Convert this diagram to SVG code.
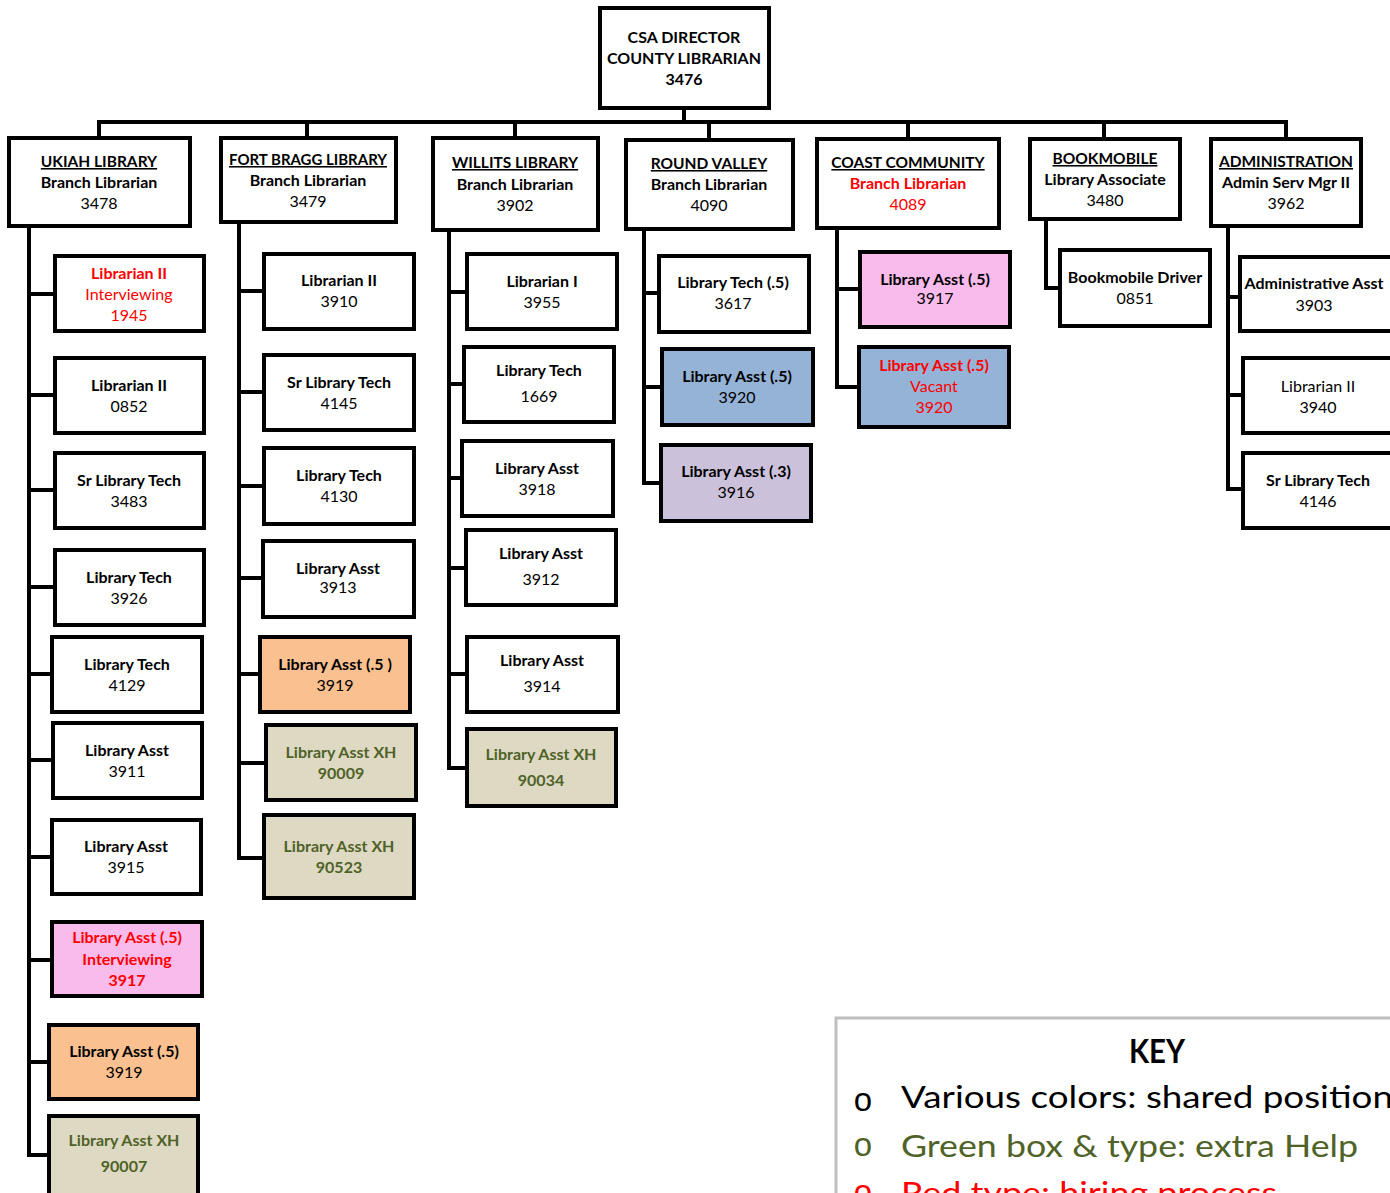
<svg xmlns="http://www.w3.org/2000/svg" width="1390" height="1193" viewBox="0 0 1390 1193">
<style>
.b{fill:#fff;stroke:#000;stroke-width:4}
.pink{fill:#F9BBEC}
.orange{fill:#FAC08F}
.green{fill:#DDD9C3}
.blue{fill:#95B3D7}
.purple{fill:#CCC1DA}
text{font-family:Lato,"Liberation Sans",sans-serif;font-size:16px;text-anchor:middle;fill:#000}
.h{font-weight:bold}
.u{font-weight:bold;text-decoration:underline;font-size:15.5px}
.r{fill:#FF0000}
.g{fill:#4F6228;font-weight:bold}
.c{fill:none;stroke:#000;stroke-width:4;stroke-linejoin:miter;stroke-linecap:square}
.key{text-anchor:start;font-size:31px}
.bul{font-family:"Liberation Sans",sans-serif;font-size:33px;font-weight:normal}
</style>
<rect width="1390" height="1193" fill="#fff"/>
<g id="connectors">
<path class="c" d="M684,108V122M99,122H1286M99,122V138M307,122V138M515,122V138M709,122V140M908,122V139M1104,122V139M1286,122V139"/>
<path class="c" d="M29,226V1155M29,294H55M29,395H55M29,490H55M29,587H55M29,674H52M29,760H53M29,857H52M29,960H52M29,1062H49M29,1155H49"/>
<path class="c" d="M239,222V858M239,291H264M239,392H264M239,486H264M239,578H263M239,674H260M239,763H266M239,858H264"/>
<path class="c" d="M449,230V768M449,292H467M449,384H464M449,478H462M449,568H466M449,674H467M449,768H467"/>
<path class="c" d="M644,229V483M644,293H659M644,387H662M644,483H661"/>
<path class="c" d="M837,228V387M837,289H860M837,387H859"/>
<path class="c" d="M1046,219V288H1060"/>
<path class="c" d="M1228,226V489M1228,297H1240M1228,395H1243M1228,489H1243"/>
</g>
<g id="director"><rect class="b" x="600" y="8" width="169" height="100"/><text class="h" x="684" y="43">CSA DIRECTOR</text><text class="h" x="684" y="64">COUNTY LIBRARIAN</text><text class="h" x="684" y="85">3476</text></g>
<g id="ukiah"><rect class="b" x="9" y="138" width="181" height="88"/><text class="u" x="99" y="167">UKIAH LIBRARY</text><text class="h" x="99" y="188">Branch Librarian</text><text x="99" y="209">3478</text></g>
<g id="fortbragg"><rect class="b" x="221" y="138" width="175" height="84"/><text class="u" x="308" y="165" textLength="158" lengthAdjust="spacingAndGlyphs">FORT BRAGG LIBRARY</text><text class="h" x="308" y="186">Branch Librarian</text><text x="308" y="207">3479</text></g>
<g id="willits"><rect class="b" x="433" y="138" width="165" height="92"/><text class="u" x="515" y="168">WILLITS LIBRARY</text><text class="h" x="515" y="190">Branch Librarian</text><text x="515" y="211">3902</text></g>
<g id="roundvalley"><rect class="b" x="626" y="140" width="167" height="89"/><text class="u" x="709" y="169">ROUND VALLEY</text><text class="h" x="709" y="190">Branch Librarian</text><text x="709" y="211">4090</text></g>
<g id="coast"><rect class="b" x="817" y="139" width="182" height="89"/><text class="u" x="908" y="168">COAST COMMUNITY</text><text class="h r" x="908" y="189">Branch Librarian</text><text class="r" x="908" y="210">4089</text></g>
<g id="bookmobile"><rect class="b" x="1030" y="139" width="150" height="80"/><text class="u" x="1105" y="164">BOOKMOBILE</text><text class="h" x="1105" y="185">Library Associate</text><text x="1105" y="206">3480</text></g>
<g id="administration"><rect class="b" x="1211" y="139" width="150" height="87"/><text class="u" x="1286" y="167">ADMINISTRATION</text><text class="h" x="1286" y="188">Admin Serv Mgr II</text><text x="1286" y="209">3962</text></g>

<g id="uk1"><rect class="b" x="55" y="256" width="149" height="75"/><text class="h r" x="129" y="279">Librarian II</text><text class="r" x="129" y="300">Interviewing</text><text class="r" x="129" y="321">1945</text></g>
<g id="uk2"><rect class="b" x="55" y="358" width="149" height="75"/><text class="h" x="129" y="391">Librarian II</text><text x="129" y="412">0852</text></g>
<g id="uk3"><rect class="b" x="55" y="453" width="149" height="75"/><text class="h" x="129" y="486">Sr Library Tech</text><text x="129" y="507">3483</text></g>
<g id="uk4"><rect class="b" x="55" y="550" width="149" height="75"/><text class="h" x="129" y="583">Library Tech</text><text x="129" y="604">3926</text></g>
<g id="uk5"><rect class="b" x="52" y="637" width="150" height="75"/><text class="h" x="127" y="670">Library Tech</text><text x="127" y="691">4129</text></g>
<g id="uk6"><rect class="b" x="53" y="723" width="149" height="75"/><text class="h" x="127" y="756">Library Asst</text><text x="127" y="777">3911</text></g>
<g id="uk7"><rect class="b" x="52" y="820" width="149" height="74"/><text class="h" x="126" y="852">Library Asst</text><text x="126" y="873">3915</text></g>
<g id="uk8"><rect class="b pink" x="52" y="922" width="150" height="74"/><text class="h r" x="127" y="943">Library Asst (.5)</text><text class="h r" x="127" y="965">Interviewing</text><text class="h r" x="127" y="986">3917</text></g>
<g id="uk9"><rect class="b orange" x="49" y="1025" width="149" height="74"/><text class="h" x="124" y="1057">Library Asst (.5)</text><text x="124" y="1078">3919</text></g>
<g id="uk10"><rect class="b green" x="49" y="1116" width="149" height="90"/><text class="g" x="124" y="1146">Library Asst XH</text><text class="g" x="124" y="1172">90007</text></g>

<g id="fb1"><rect class="b" x="264" y="254" width="150" height="75"/><text class="h" x="339" y="286">Librarian II</text><text x="339" y="307">3910</text></g>
<g id="fb2"><rect class="b" x="264" y="355" width="150" height="75"/><text class="h" x="339" y="388">Sr Library Tech</text><text x="339" y="409">4145</text></g>
<g id="fb3"><rect class="b" x="264" y="448" width="150" height="76"/><text class="h" x="339" y="481">Library Tech</text><text x="339" y="502">4130</text></g>
<g id="fb4"><rect class="b" x="263" y="541" width="151" height="76"/><text class="h" x="338" y="574">Library Asst</text><text x="338" y="593">3913</text></g>
<g id="fb5"><rect class="b orange" x="260" y="637" width="150" height="75"/><text class="h" x="335" y="670">Library Asst (.5 )</text><text x="335" y="691">3919</text></g>
<g id="fb6"><rect class="b green" x="266" y="725" width="150" height="75"/><text class="g" x="341" y="758">Library Asst XH</text><text class="g" x="341" y="779">90009</text></g>
<g id="fb7"><rect class="b green" x="264" y="815" width="150" height="83"/><text class="g" x="339" y="852">Library Asst XH</text><text class="g" x="339" y="873">90523</text></g>

<g id="wi1"><rect class="b" x="467" y="254" width="150" height="75"/><text class="h" x="542" y="287">Librarian I</text><text x="542" y="308">3955</text></g>
<g id="wi2"><rect class="b" x="464" y="347" width="150" height="75"/><text class="h" x="539" y="376">Library Tech</text><text x="539" y="402">1669</text></g>
<g id="wi3"><rect class="b" x="462" y="441" width="151" height="75"/><text class="h" x="537" y="474">Library Asst</text><text x="537" y="495">3918</text></g>
<g id="wi4"><rect class="b" x="466" y="530" width="150" height="75"/><text class="h" x="541" y="559">Library Asst</text><text x="541" y="585">3912</text></g>
<g id="wi5"><rect class="b" x="467" y="637" width="151" height="75"/><text class="h" x="542" y="666">Library Asst</text><text x="542" y="692">3914</text></g>
<g id="wi6"><rect class="b green" x="467" y="729" width="149" height="77"/><text class="g" x="541" y="760">Library Asst XH</text><text class="g" x="541" y="786">90034</text></g>

<g id="rv1"><rect class="b" x="659" y="256" width="150" height="76"/><text class="h" x="733" y="288">Library Tech (.5)</text><text x="733" y="309">3617</text></g>
<g id="rv2"><rect class="b blue" x="662" y="349" width="151" height="76"/><text class="h" x="737" y="382">Library Asst (.5)</text><text x="737" y="403">3920</text></g>
<g id="rv3"><rect class="b purple" x="661" y="445" width="150" height="76"/><text class="h" x="736" y="477">Library Asst (.3)</text><text x="736" y="498">3916</text></g>

<g id="cc1"><rect class="b pink" x="860" y="252" width="150" height="75"/><text class="h" x="935" y="285">Library Asst (.5)</text><text x="935" y="304">3917</text></g>
<g id="cc2"><rect class="b blue" x="859" y="347" width="150" height="80"/><text class="h r" x="934" y="371">Library Asst (.5)</text><text class="r" x="934" y="392">Vacant</text><text class="r" x="934" y="413">3920</text></g>

<g id="bm1"><rect class="b" x="1060" y="250" width="150" height="76"/><text class="h" x="1135" y="283">Bookmobile Driver</text><text x="1135" y="304">0851</text></g>

<g id="ad1"><rect class="b" x="1240" y="257" width="155" height="74"/><text class="h" x="1314" y="289">Administrative Asst</text><text x="1314" y="311">3903</text></g>
<g id="ad2"><rect class="b" x="1243" y="358" width="152" height="75"/><text x="1318" y="392">Librarian II</text><text x="1318" y="413">3940</text></g>
<g id="ad3"><rect class="b" x="1243" y="453" width="152" height="75"/><text class="h" x="1318" y="486">Sr Library Tech</text><text x="1318" y="507">4146</text></g>

<g id="key">
<rect x="836" y="1018" width="600" height="260" fill="#fff" stroke="#BFBFBF" stroke-width="3"/>
<text class="h" x="1157" y="1063" style="font-size:32px" textLength="56" lengthAdjust="spacingAndGlyphs">KEY</text>
<text class="bul" x="863" y="1111">o</text>
<text class="key" x="901" y="1108" textLength="492" lengthAdjust="spacingAndGlyphs">Various colors:  shared position</text>
<text class="bul" x="863" y="1156" style="fill:#4F6228">o</text>
<text class="key" x="901" y="1157" textLength="457" lengthAdjust="spacingAndGlyphs" style="fill:#4F6228">Green box &amp; type: extra Help</text>
<text class="bul r" x="863" y="1203">o</text>
<text class="key r" x="901" y="1204" textLength="376" lengthAdjust="spacingAndGlyphs">Red type: hiring process</text>
</g>
</svg>
